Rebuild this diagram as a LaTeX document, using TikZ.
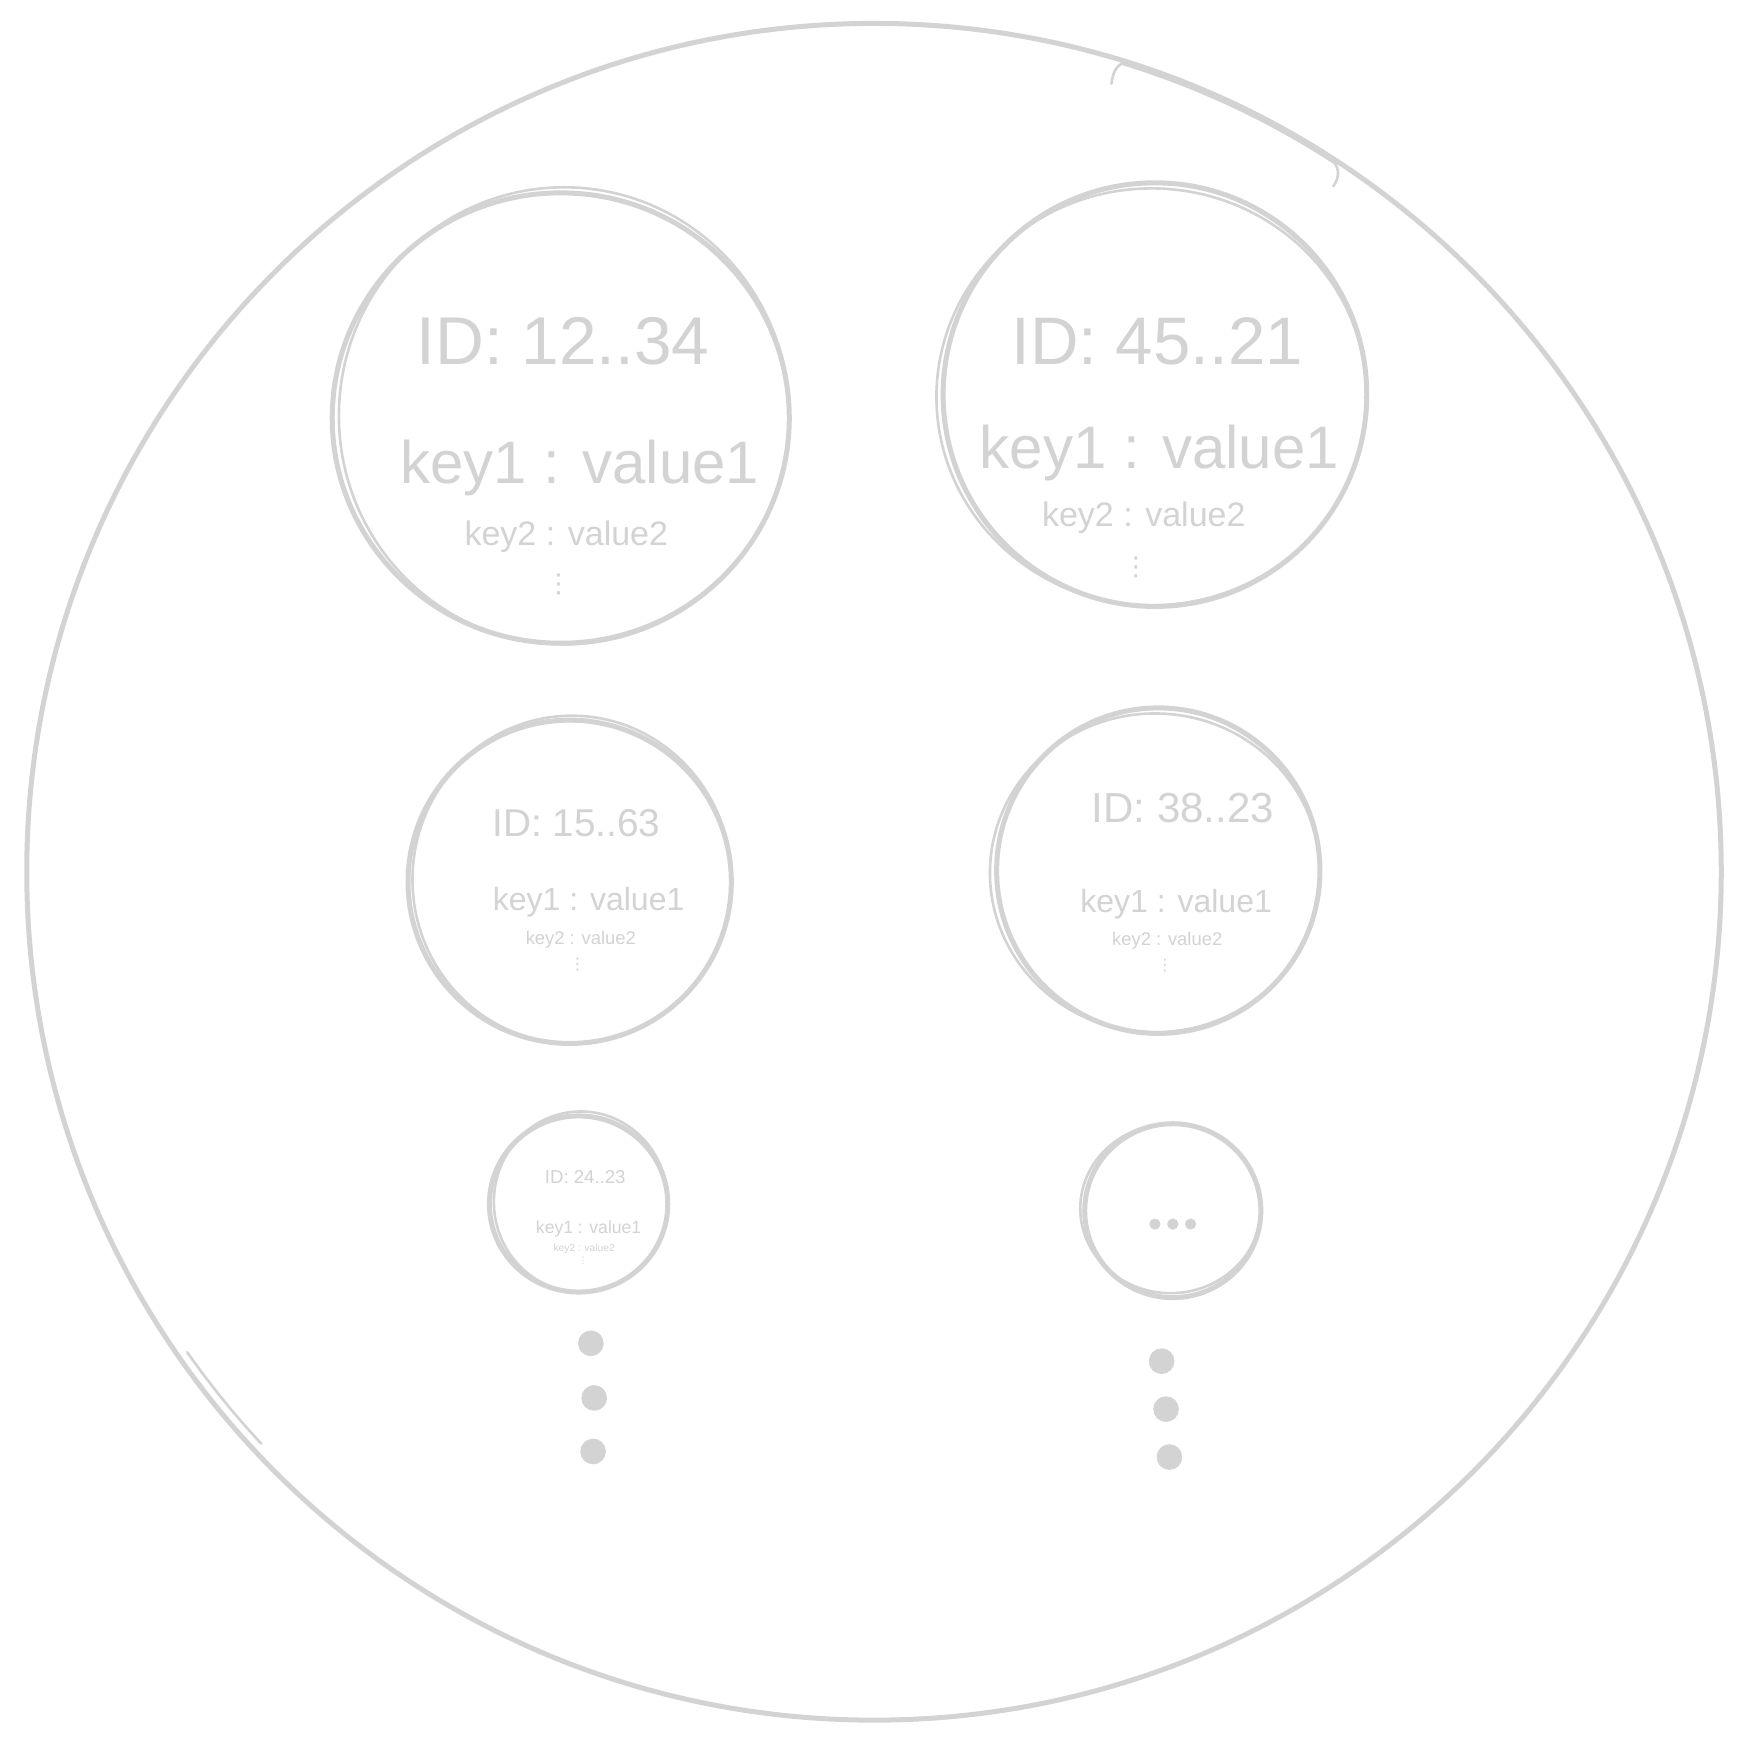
\documentclass[tikz,border=0pt]{standalone}
\usepackage{fontspec}
\setmainfont{Liberation Sans}
\newfontfamily\symfnt{DejaVu Sans}
\definecolor{sk}{RGB}{211,211,211}
\newcommand\szf[1]{\fontsize{#1}{#1}\selectfont}
\begin{document}
\begin{tikzpicture}[x=0.5574pt,y=-0.5574pt,
  stroke/.style={draw=sk,line width=2.5pt,line cap=round,line join=round},
  outer stroke/.style={draw=sk,line width=2.5pt,line cap=round},
  thin stroke/.style={draw=sk,line width=1.3pt,line cap=round},
  txt/.style={text=sk,inner sep=0pt,anchor=center},
  dotfill/.style={fill=sk,draw=none}]
\useasboundingbox[fill=white] (0,0) rectangle (1568,1568);

% outer hand-drawn circle
\coordinate (oc) at (784,782);
\draw[outer stroke] (oc) ellipse [x radius=760,y radius=761];
\draw[thin stroke] (997,75) .. controls (998,66) and (1001,60) .. (1006,57)
  arc [start angle=-73, end angle=-57, radius=756]
  .. controls (1202,152) and (1201,160) .. (1196,167);
\draw[thin stroke] (168,1213) arc [start angle=145, end angle=137, radius=757];

% record circles (double hand-drawn strokes)
\draw[stroke] (503,375) ellipse [x radius=205,y radius=202];
\draw[thin stroke] (506,373) ellipse [x radius=202,y radius=205];
\draw[stroke] (1036,354) ellipse [x radius=190,y radius=190];
\draw[thin stroke] (1033,356) ellipse [x radius=193,y radius=187];
\draw[stroke] (511,791) ellipse [x radius=145,y radius=145];
\draw[thin stroke] (513,789) ellipse [x radius=143,y radius=147];
\draw[stroke] (1039,781) ellipse [x radius=145,y radius=146];
\draw[thin stroke] (1036,783) ellipse [x radius=148,y radius=143];
\draw[stroke] (519,1080) ellipse [x radius=80,y radius=79];
\draw[thin stroke] (521,1078) ellipse [x radius=78,y radius=81];
\draw[stroke] (1052,1086) ellipse [x radius=79,y radius=78];
\draw[thin stroke] (1050,1084) ellipse [x radius=81,y radius=76];

% circle 1
\node[txt] (id1) at (505,306) {\szf{33.8}ID: 12..34};
\node[txt] (ka1) at (520,420) {\szf{30}key1 : value1};
\node[txt] (kb1) at (508,481) {\szf{17}key2 : value2};
\node[txt] (vd1) at (501,524) {\symfnt\szf{13}⋮};
% circle 2
\node[txt] (id2) at (1038,306) {\szf{33.6}ID: 45..21};
\node[txt] (ka2) at (1040,406) {\szf{30}key1 : value1};
\node[txt] (kb2) at (1026,464) {\szf{17}key2 : value2};
\node[txt] (vd2) at (1019,509) {\symfnt\szf{13}⋮};
% circle 3
\node[txt] (id3) at (517,738) {\szf{19.4}ID: 15..63};
\node[txt] (ka3) at (528,809) {\szf{16}key1 : value1};
\node[txt] (kb3) at (521,843) {\szf{9.2}key2 : value2};
\node[txt] (vd3) at (518,865) {\symfnt\szf{8}⋮};
% circle 4
\node[txt] (id4) at (1061,725) {\szf{21}ID: 38..23};
\node[txt] (ka4) at (1055,811) {\szf{16}key1 : value1};
\node[txt] (kb4) at (1047,844) {\szf{9.2}key2 : value2};
\node[txt] (vd4) at (1045,866) {\symfnt\szf{8}⋮};
% circle 5
\node[txt] (id5) at (525,1056) {\szf{9.3}ID: 24..23};
\node[txt] (ka5) at (528,1102) {\szf{8.8}key1 : value1};
\node[txt] (kb5) at (524,1120) {\szf{5.1}key2 : value2};
\node[txt] (vd5) at (523,1131) {\symfnt\szf{4.5}⋮};
% circle 6: ellipsis dots
\fill[dotfill] (1036,1098) circle [radius=5];
\fill[dotfill] (1052,1098) circle [radius=5];
\fill[dotfill] (1068,1098) circle [radius=5];

% big continuation dots
\fill[dotfill] (530,1205) circle [radius=11.5];
\fill[dotfill] (533,1254) circle [radius=11.5];
\fill[dotfill] (532,1302) circle [radius=11.5];
\fill[dotfill] (1042,1221) circle [radius=11.5];
\fill[dotfill] (1046,1264) circle [radius=11.5];
\fill[dotfill] (1049,1307) circle [radius=11.5];
\end{tikzpicture}
\end{document}
